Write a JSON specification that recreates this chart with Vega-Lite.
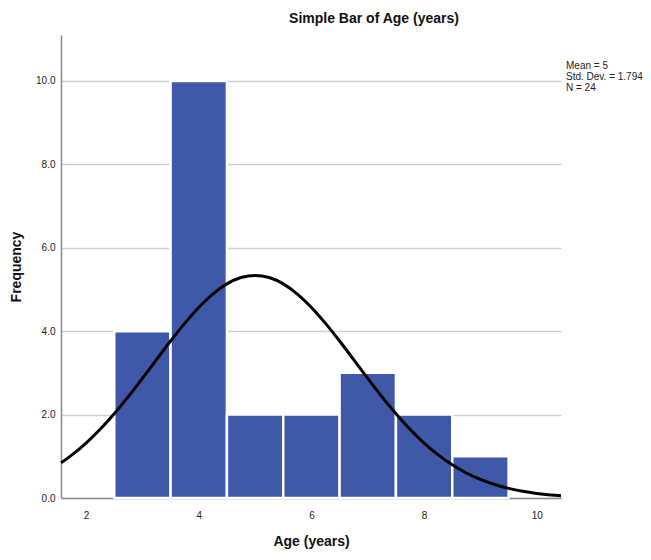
{
  "$schema": "https://vega.github.io/schema/vega-lite/v6.json",
  "width": 500,
  "height": 463,
  "autosize": {"type": "none"},
  "padding": {"left": 61, "top": 35, "right": 90, "bottom": 62},
  "background": "white",
  "title": {
    "text": "Simple Bar of Age (years)",
    "font": "Liberation Sans, Arial",
    "fontSize": 14,
    "fontWeight": "bold",
    "color": "#111111",
    "anchor": "middle",
    "dx": 63,
    "offset": 9
  },
  "datasets": {
    "bars": [
      {"start": 2.5, "end": 3.5, "count": 4},
      {"start": 3.5, "end": 4.5, "count": 10},
      {"start": 4.5, "end": 5.5, "count": 2},
      {"start": 5.5, "end": 6.5, "count": 2},
      {"start": 6.5, "end": 7.5, "count": 3},
      {"start": 7.5, "end": 8.5, "count": 2},
      {"start": 8.5, "end": 9.5, "count": 1}
    ],
    "curve": [
      {"age": 1.555, "freq": 0.843},
      {"age": 1.75, "freq": 1.034},
      {"age": 2.0, "freq": 1.318},
      {"age": 2.25, "freq": 1.649},
      {"age": 2.5, "freq": 2.021},
      {"age": 2.75, "freq": 2.43},
      {"age": 3.0, "freq": 2.867},
      {"age": 3.25, "freq": 3.316},
      {"age": 3.5, "freq": 3.763},
      {"age": 3.75, "freq": 4.187},
      {"age": 4.0, "freq": 4.569},
      {"age": 4.25, "freq": 4.89},
      {"age": 4.5, "freq": 5.134},
      {"age": 4.75, "freq": 5.285},
      {"age": 5.0, "freq": 5.337},
      {"age": 5.25, "freq": 5.285},
      {"age": 5.5, "freq": 5.134},
      {"age": 5.75, "freq": 4.89},
      {"age": 6.0, "freq": 4.569},
      {"age": 6.25, "freq": 4.187},
      {"age": 6.5, "freq": 3.763},
      {"age": 6.75, "freq": 3.316},
      {"age": 7.0, "freq": 2.867},
      {"age": 7.25, "freq": 2.43},
      {"age": 7.5, "freq": 2.021},
      {"age": 7.75, "freq": 1.649},
      {"age": 8.0, "freq": 1.318},
      {"age": 8.25, "freq": 1.034},
      {"age": 8.5, "freq": 0.796},
      {"age": 8.75, "freq": 0.6},
      {"age": 9.0, "freq": 0.444},
      {"age": 9.25, "freq": 0.323},
      {"age": 9.5, "freq": 0.23},
      {"age": 9.75, "freq": 0.16},
      {"age": 10.0, "freq": 0.11},
      {"age": 10.25, "freq": 0.074},
      {"age": 10.43, "freq": 0.055}
    ],
    "stats": [
      {"stat": "Mean = 5"},
      {"stat": "Std. Dev. = 1.794"},
      {"stat": "N = 24"}
    ]
  },
  "config": {
    "view": {"stroke": null},
    "axis": {
      "labelFont": "Liberation Sans, Arial",
      "labelFontSize": 10,
      "labelColor": "#222222",
      "titleFont": "Liberation Sans, Arial",
      "titleFontSize": 14,
      "titleFontWeight": "bold",
      "titleColor": "#111111",
      "domainColor": "#8c8c8c",
      "domainWidth": 1.5,
      "ticks": false
    }
  },
  "layer": [
    {
      "data": {"name": "bars"},
      "mark": {"type": "bar", "color": "#3f59a8", "stroke": "white", "strokeWidth": 2.5},
      "encoding": {
        "x": {
          "field": "start",
          "type": "quantitative",
          "scale": {"domain": [1.555, 10.43], "nice": false, "zero": false},
          "axis": {
            "title": "Age (years)",
            "values": [2, 4, 6, 8, 10],
            "format": "d",
            "grid": false,
            "labelPadding": 12,
            "titlePadding": 14
          }
        },
        "x2": {"field": "end"},
        "y": {
          "field": "count",
          "type": "quantitative",
          "scale": {"domain": [0, 11.1], "nice": false},
          "axis": {
            "title": "Frequency",
            "values": [0, 2, 4, 6, 8, 10],
            "format": ".1f",
            "grid": true,
            "gridColor": "#cfcfcf",
            "gridWidth": 1.5,
            "labelPadding": 6,
            "titlePadding": 12
          }
        },
        "y2": {"datum": 0}
      }
    },
    {
      "data": {"name": "curve"},
      "mark": {"type": "line", "color": "black", "strokeWidth": 3, "interpolate": "monotone"},
      "encoding": {
        "x": {"field": "age", "type": "quantitative"},
        "y": {"field": "freq", "type": "quantitative"}
      }
    },
    {
      "data": {"name": "stats"},
      "mark": {"type": "point", "opacity": 0},
      "encoding": {
        "color": {
          "field": "stat",
          "type": "nominal",
          "sort": null,
          "scale": {"range": ["white", "white", "white"]},
          "legend": {
            "title": null,
            "orient": "none",
            "legendX": 495,
            "legendY": 26,
            "symbolSize": 0,
            "symbolOpacity": 0,
            "symbolStrokeWidth": 0,
            "labelOffset": 0,
            "labelLimit": 0,
            "labelFont": "Liberation Sans, Arial",
            "labelFontSize": 10,
            "labelColor": "#222222",
            "rowPadding": 1,
            "padding": 0
          }
        }
      }
    }
  ]
}
